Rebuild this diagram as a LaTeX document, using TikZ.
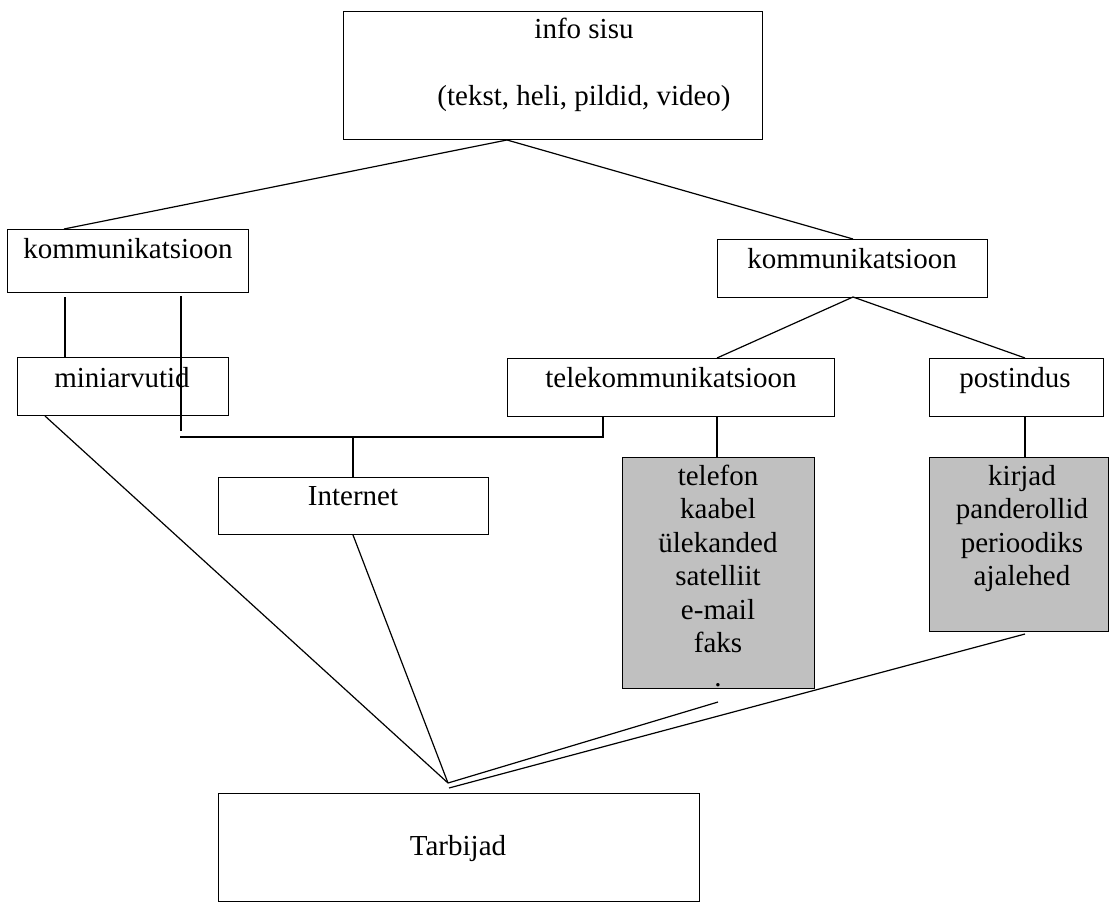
\documentclass[tikz,border=0pt]{standalone}
\usepackage{fontspec}
\setmainfont{Liberation Serif}
\definecolor{boxgray}{RGB}{192,192,192}
\begin{document}
\begin{tikzpicture}[x=1pt,y=-1pt,
  box/.style={draw,line width=1.3pt,inner sep=0pt,anchor=north west},
  gbox/.style={box,fill=boxgray},
  txt/.style={anchor=base,inner sep=0pt,font=\fontsize{29}{33.5}\selectfont},
  conn/.style={line width=1.2pt}]
\useasboundingbox (0,0) rectangle (1110,904);
% boxes
\node[box,minimum width=419pt,minimum height=128pt] (info) at (343,11) {};
\node[box,minimum width=241pt,minimum height=63pt] (komA) at (7,229) {};
\node[box,minimum width=270pt,minimum height=58pt] (komB) at (717,239) {};
\node[box,minimum width=211pt,minimum height=58pt] (mini) at (17,357) {};
\node[box,minimum width=327pt,minimum height=58pt] (tele) at (507,358) {};
\node[box,minimum width=174pt,minimum height=58pt] (post) at (929,358) {};
\node[box,minimum width=270pt,minimum height=57pt] (inet) at (218,477) {};
\node[gbox,minimum width=192pt,minimum height=231pt] (tgray) at (622,457) {};
\node[gbox,minimum width=179pt,minimum height=174pt] (pgray) at (929,457) {};
\node[box,minimum width=481pt,minimum height=108pt] (tarb) at (218,793) {};
% texts
\node[txt] (t1) at (584,39) {info sisu};
\node[txt] (t2) at (584,106) {(tekst, heli, pildid, video)};
\node[txt] (t3) at (128,258) {kommunikatsioon};
\node[txt] (t4) at (852,268) {kommunikatsioon};
\node[txt] (t5) at (122,387) {miniarvutid};
\node[txt] (t6) at (671,387) {telekommunikatsioon};
\node[txt] (t7) at (1015,387) {postindus};
\node[txt] (t8) at (353,505) {Internet};
\node[txt] (t9) at (458,855) {Tarbijad};
\foreach \w [count=\i from 0] in {telefon,kaabel,ülekanded,satelliit,e-mail,faks,.}
  \node[txt] (tg\i) at (718,485+33.5*\i) {\w};
\foreach \w [count=\i from 0] in {kirjad,panderollid,perioodiks,ajalehed}
  \node[txt] (pg\i) at (1022,485+33.5*\i) {\w};
% connector points
\coordinate (a1) at (507,140);
\coordinate (a2) at (64,229);
\coordinate (a3) at (853,239);
\coordinate (b1) at (65,297);
\coordinate (b2) at (65,357);
\coordinate (c1) at (181,296);
\coordinate (c2) at (181,431);
\coordinate (d1) at (180,437);
\coordinate (d2) at (603,437);
\coordinate (d3) at (603,416);
\coordinate (e1) at (353,437);
\coordinate (e2) at (353,477);
\coordinate (f1) at (853,297);
\coordinate (f2) at (717,358);
\coordinate (f3) at (1025,358);
\coordinate (g1) at (717,416);
\coordinate (g2) at (717,457);
\coordinate (h1) at (1025,416);
\coordinate (h2) at (1025,457);
\coordinate (i1) at (45,416);
\coordinate (apex) at (448,783);
\coordinate (apex2) at (449,788);
\coordinate (j1) at (353,535);
\coordinate (k1) at (718,702);
\coordinate (l1) at (1025,634);
% connectors
\draw[conn] (a2) -- (a1) -- (a3);
\draw[conn] (b1) -- (b2);
\draw[conn] (c1) -- (c2);
\draw[conn] (d1) -- (d2) -- (d3);
\draw[conn] (e1) -- (e2);
\draw[conn] (f2) -- (f1) -- (f3);
\draw[conn] (g1) -- (g2);
\draw[conn] (h1) -- (h2);
\draw[conn] (i1) -- (apex);
\draw[conn] (j1) -- (apex);
\draw[conn] (k1) -- (apex);
\draw[conn] (l1) -- (apex2);
\end{tikzpicture}
\end{document}
